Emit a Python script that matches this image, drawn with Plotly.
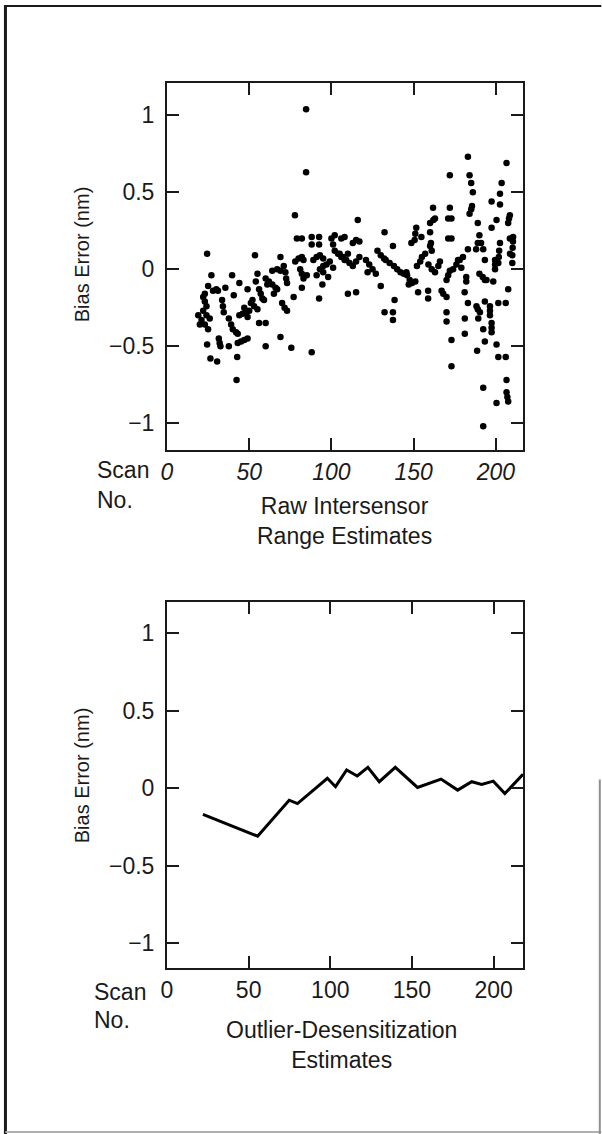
import plotly.graph_objects as go

## data
# raw intersensor range estimates (scatter, top panel)
scan_raw = [
    19, 21, 23, 25, 24, 22, 26, 20,
    22, 23, 24, 23,
    24.4, 27, 25, 28, 30, 31,
    24.4, 26.4, 30.5, 31.5, 32, 32.5,
    33.5, 34, 34.5, 35.5,
    37.6, 39, 40, 42, 43, 37.6, 39.6, 40.6, 42.7, 42.3,
    43, 45, 47, 49, 44, 44,
    47, 48, 49, 50, 46, 49,
    51, 53, 55, 52, 53.5, 54, 55,
    56, 57, 58, 59, 56, 60,
    60, 62, 64, 66, 67, 61, 60,
    64, 67, 69, 65, 69, 69,
    70, 71.5, 73, 71, 72, 72.5, 73,
    75.6, 77, 77.8,
    78, 80, 82, 83, 79, 82,
    81, 82, 83, 85, 82,
    84.6, 84.6,
    88, 92.5, 88, 92.5,
    89, 91, 93, 95, 88, 92.5,
    93, 95, 97, 99, 101, 94.5, 91, 95, 98,
    100, 101, 102, 104, 106, 108, 102, 106,
    105, 107, 109, 111, 113, 115, 117, 110,
    108, 115, 113, 117, 116, 110, 115,
    121, 123, 125, 127, 122,
    128, 130, 132, 133, 130, 132.3,
    132.3, 137.4, 137.4,
    135.4, 138, 140, 142, 144, 145.6, 137.4, 138.4,
    146, 147.6, 149, 151, 147, 148.6,
    150.6, 151, 151.6,
    152, 154, 155, 157, 152.7, 154.7,
    158.8, 158.8,
    159, 161, 163, 165, 166,
    160, 160, 161, 160.5, 160, 162, 163, 161.8,
    167, 168, 170, 170, 170,
    170, 171, 172, 171, 173, 171, 173, 172, 172,
    173, 173,
    174, 176, 178, 180, 179, 177,
    181, 181.1, 181.1, 182, 182,
    183, 183, 183,
    184, 185, 185.5, 184, 185, 186,
    188, 189, 190, 191, 192.3,
    188.2, 189, 190.3, 188.6, 189, 189.3,
    190, 192, 194.3,
    192.3, 192.3, 192.3,
    193.3, 193.3, 193.3, 193.3,
    196.4, 196.4, 196.4,
    197.4, 197.4, 197.4, 197.4, 197.4,
    198.4, 199.5, 199.5, 199.5,
    200.4, 200.4, 200.4,
    201.5, 201.8, 202, 202.5, 201.5, 201.5,
    202.5, 202.5, 203.5,
    206, 206, 206.5, 206.5,
    207.5, 208, 208.5, 207.5,
    206.5, 207, 207.5, 208.6, 208.5,
    210, 210, 210.2, 210.4, 210.5,
]
bias_raw = [
    -0.30, -0.33, -0.36, -0.39, -0.30, -0.27, -0.32, -0.36,
    -0.18, -0.21, -0.24, -0.16,
    0.10, -0.04, -0.11, -0.14, -0.13, -0.14,
    -0.49, -0.58, -0.60, -0.45, -0.48, -0.50,
    -0.20, -0.24, -0.28, -0.12,
    -0.32, -0.36, -0.39, -0.41, -0.42, -0.50, -0.04, -0.17, -0.57, -0.72,
    -0.48, -0.47, -0.46, -0.45, -0.09, -0.30,
    -0.25, -0.28, -0.31, -0.27, -0.29, -0.13,
    -0.22, -0.24, -0.26, -0.20, 0.09, -0.08, -0.03,
    -0.13, -0.16, -0.19, -0.20, -0.35, -0.35,
    -0.06, -0.08, -0.10, -0.12, -0.13, -0.10, -0.50,
    -0.01, 0.00, -0.01, -0.16, 0.08, -0.44,
    -0.22, -0.25, -0.27, 0.02, -0.02, -0.06, -0.09,
    -0.51, -0.18, 0.35,
    0.05, 0.07, 0.08, 0.06, 0.20, 0.20,
    0.00, -0.03, -0.06, -0.04, -0.12,
    1.04, 0.63,
    0.21, 0.21, 0.16, 0.16,
    0.06, 0.08, 0.09, 0.07, -0.54, -0.19,
    0.00, 0.02, 0.03, 0.05, 0.01, -0.10, -0.04, -0.02, -0.05,
    0.20, 0.16, 0.12, 0.10, 0.08, 0.06, 0.22, 0.20,
    0.10, 0.08, 0.06, 0.04, 0.02, 0.05, 0.08, 0.10,
    0.21, 0.19, 0.17, 0.18, 0.32, -0.16, -0.15,
    0.06, 0.03, 0.00, -0.03, -0.02,
    0.12, 0.09, 0.07, 0.06, -0.11, 0.24,
    -0.28, -0.28, -0.33,
    0.04, 0.02, 0.00, -0.02, -0.03, -0.02, 0.15, -0.20,
    -0.04, -0.07, -0.09, -0.08, -0.10, 0.17,
    0.19, 0.23, 0.27,
    0.02, 0.05, 0.08, 0.10, -0.15, 0.21,
    -0.14, -0.19,
    0.03, 0.00, -0.02, 0.02, 0.05,
    0.24, 0.15, 0.12, 0.17, 0.30, 0.32, 0.33, 0.40,
    -0.14, -0.16, -0.18, -0.28, -0.34,
    -0.07, -0.04, -0.01, 0.33, 0.33, 0.20, 0.20, 0.40, 0.61,
    -0.46, -0.63,
    0.00, 0.03, 0.06, 0.08, 0.01, 0.06,
    -0.15, -0.32, -0.42, -0.05, -0.08,
    0.13, -0.22, 0.73,
    0.36, 0.39, 0.41, 0.61, 0.56, 0.50,
    0.13, 0.17, 0.22, 0.17, 0.13,
    -0.24, -0.26, -0.28, -0.53, 0.30, -0.32,
    -0.03, -0.05, -0.07,
    -0.39, -0.77, -1.02,
    0.06, -0.07, -0.21, -0.47,
    -0.24, -0.27, -0.30,
    0.44, 0.27, -0.35, -0.38, -0.41,
    -0.08, 0.00, 0.03, 0.06,
    0.32, -0.49, -0.87,
    0.04, 0.08, 0.12, 0.17, -0.22, -0.57,
    0.42, 0.49, 0.56,
    -0.22, -0.57, 0.69, -0.72,
    0.30, 0.33, 0.35, -0.13,
    -0.80, -0.83, -0.86, 0.10, 0.20,
    0.04, 0.09, 0.14, 0.18, 0.21,
]

# outlier-desensitization estimates (line, bottom panel)
scan_od = [22, 55.5, 74.8, 79.9, 98.2, 103.2, 110, 116.5, 123, 130, 139.8,
           153.4, 167.8, 178, 186.6, 192.7, 199.8, 206.9, 218]
bias_od = [-0.17, -0.31, -0.078, -0.10, 0.063, 0.009, 0.117, 0.078, 0.134,
           0.041, 0.134, 0.004, 0.058, -0.013, 0.041, 0.024, 0.045, -0.035, 0.089]

x_ticks = [0, 50, 100, 150, 200]
y_ticks = [-1, -0.5, 0, 0.5, 1]

font_family = "Liberation Sans, Arial, sans-serif"
ink = "#1a1a1a"

fig = go.Figure()
fig.add_trace(go.Scatter(
    x=scan_raw, y=bias_raw, mode="markers",
    marker=dict(color="black", size=6.5),
    xaxis="x", yaxis="y",
))
fig.add_trace(go.Scatter(
    x=scan_od, y=bias_od, mode="lines",
    line=dict(color="black", width=3),
    xaxis="x2", yaxis="y2",
))

axis_style = dict(
    showgrid=False, zeroline=False,
    showline=True, linewidth=2, linecolor=ink, mirror="ticks",
    ticks="inside", ticklen=12, tickwidth=2, tickcolor=ink,
)

fig.update_layout(
    width=602, height=1134,
    margin=dict(l=167, r=79, t=83, b=166),
    showlegend=False,
    plot_bgcolor="white", paper_bgcolor="white",
    font=dict(family=font_family, size=23, color=ink),
    xaxis=dict(domain=[0, 1], anchor="y", range=[0, 216.5], tickvals=x_ticks,
               tickfont=dict(style="italic"), **axis_style),
    yaxis=dict(domain=[0.5853, 1], anchor="x", range=[-1.175, 1.21],
               tickvals=y_ticks, ticklabelstandoff=6, **axis_style),
    xaxis2=dict(domain=[0, 1], anchor="y2", range=[0, 218], tickvals=x_ticks,
                **axis_style),
    yaxis2=dict(domain=[0, 0.4136], anchor="x2", range=[-1.16, 1.2],
                tickvals=y_ticks, ticklabelstandoff=6, **axis_style),
)

# labels placed by hand, in paper coordinates
def note(text, x, y, xanchor="center", size=23, angle=0):
    fig.add_annotation(
        text=text, x=x, y=y, xref="paper", yref="paper",
        xanchor=xanchor, yanchor="middle", showarrow=False,
        textangle=angle, font=dict(size=size),
    )

note("Scan", -0.2017, 0.5627, xanchor="left")
note("No.", -0.2017, 0.5288, xanchor="left")
note("Raw Intersensor<br>Range Estimates", 0.4986, 0.5051)
note("Bias Error (nm)", -0.238, 0.8068, size=20, angle=-90)

note("Scan", -0.210, -0.0271, xanchor="left")
note("No.", -0.210, -0.0588, xanchor="left")
note("Outlier-Desensitization<br>Estimates", 0.490, -0.087)
note("Bias Error (nm)", -0.238, 0.2181, size=20, angle=-90)

# outer frame of the printed figure
fig.add_shape(type="line", xref="paper", yref="paper",
              x0=-0.4538, x1=1.22, y0=1.0869, y1=1.0869,
              line=dict(color=ink, width=2))
fig.add_shape(type="line", xref="paper", yref="paper",
              x0=-0.4538, x1=-0.4538, y0=1.0881, y1=-0.19,
              line=dict(color=ink, width=3))
fig.add_shape(type="line", xref="paper", yref="paper",
              x0=-0.4538, x1=1.22, y0=-0.1853, y1=-0.1853,
              line=dict(color="#b0b0b0", width=2))
fig.add_shape(type="line", xref="paper", yref="paper",
              x0=1.2157, x1=1.2157, y0=0.213, y1=-0.19,
              line=dict(color="#909090", width=2))

# no modebar, and drop the browser's default body margin so the figure
# sits at the page corner
fig.write_html(
    "out.html",
    config={"displayModeBar": False},
    post_script="document.body.style.margin='0';",
)
